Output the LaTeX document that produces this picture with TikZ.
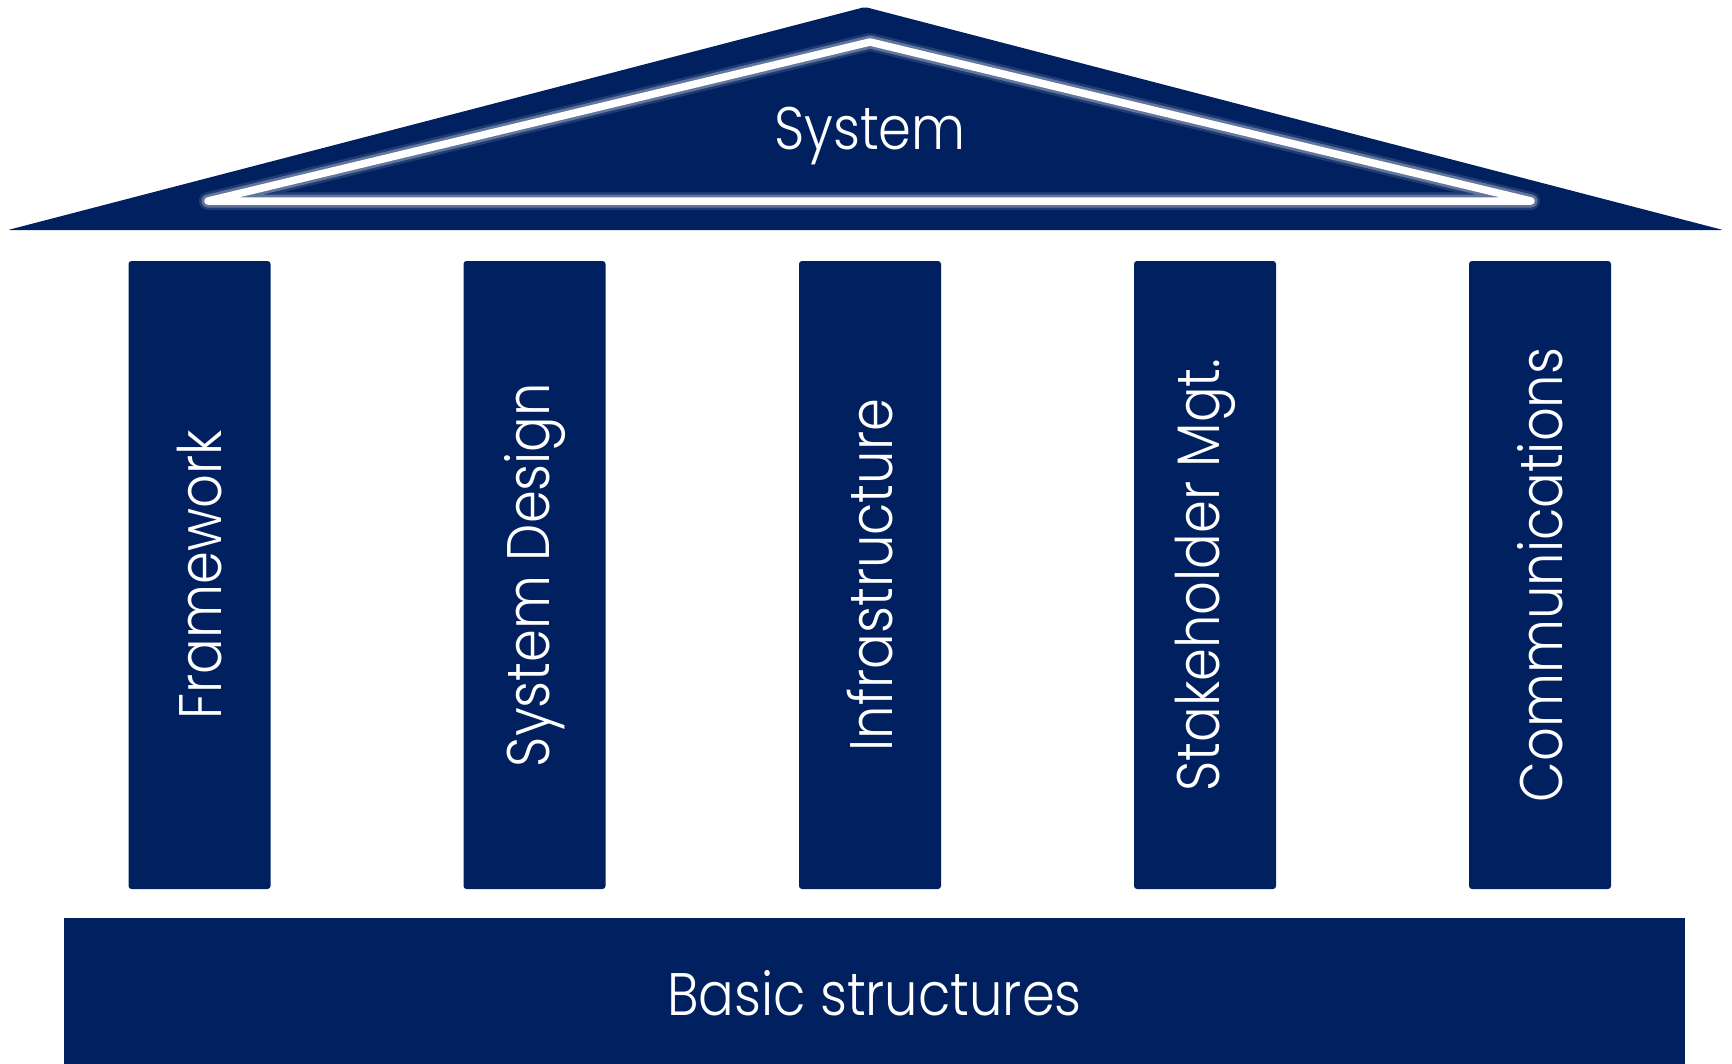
\documentclass[tikz,border=0pt]{standalone}
\usepackage{fontspec}
\setmainfont{Poppins Light}[FakeStretch=0.88]
\usepackage{tikz}
\usetikzlibrary{positioning}
\definecolor{navyTemple}{RGB}{0,32,96}
\tikzset{
    x=1pt, y=-1pt, % one unit per pixel of the picture, y downwards
    every node/.style={text=white, font=\fontsize{60}{72}\selectfont}, % white labels
    stylePillar/.style={fill=navyTemple, rounded corners=3pt, rotate=90,
        minimum width=628pt, minimum height=142pt, inner sep=0pt}, % upright columns
}

\begin{document}
\begin{tikzpicture}[
                                styleBase/.style={fill=navyTemple, minimum width=1621pt, minimum height=150pt, inner sep=0pt},
                                styleGlow/.style={draw=white, line join=round, line cap=round},
                            ]
                            \useasboundingbox (0,0) rectangle (1732,1063);
                            % roof
                            \coordinate (apex) at (865,7);
                            \coordinate (roofLeft) at (8,230);
                            \coordinate (roofRight) at (1723,230);
                            \fill[navyTemple, rounded corners=2pt] (apex) -- (roofRight) -- (roofLeft) -- cycle;
                            \coordinate (glowTop) at (870,42);
                            \coordinate (glowLeft) at (208,201);
                            \coordinate (glowRight) at (1531,201);
                            \draw[styleGlow, line width=18pt, opacity=0.12] (glowTop) -- (glowRight) -- (glowLeft) -- cycle;
                            \draw[styleGlow, line width=13pt, opacity=0.3] (glowTop) -- (glowRight) -- (glowLeft) -- cycle;
                            \draw[styleGlow, line width=7.5pt] (glowTop) -- (glowRight) -- (glowLeft) -- cycle;
                            \node[anchor=base] (system) at (870,149) {System};
                            % pillars
                            \node[stylePillar] (framework) at (199.5,575) {Framework};
                            \node[stylePillar] (design) at (534.5,575) {System Design};
                            \node[stylePillar] (infra) at (870,575) {Infrastructure};
                            \node[stylePillar] (stake) at (1205,575) {Stakeholder Mgt.};
                            \node[stylePillar] (comm) at (1540,575) {Communications};
                            % foundation
                            \node[styleBase, anchor=north] (base) at (874.5,918) {};
                            \node[anchor=base] (basic) at (874.5,1015) {Basic structures};
                        \end{tikzpicture}
\end{document}
